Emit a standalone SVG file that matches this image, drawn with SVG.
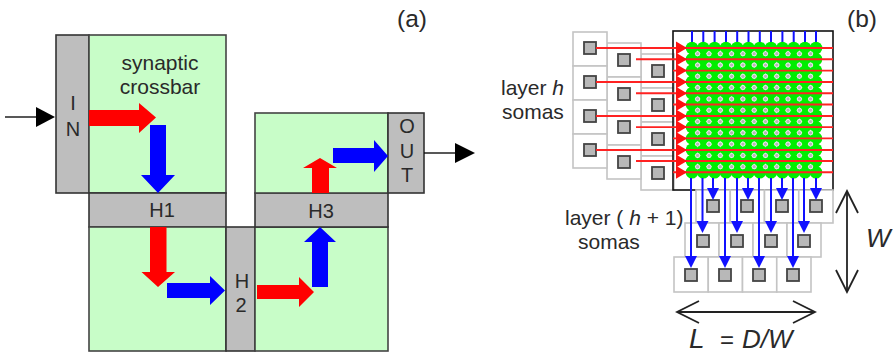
<svg xmlns="http://www.w3.org/2000/svg" width="895" height="354" viewBox="0 0 895 354">
<style>
text{font-family:"Liberation Sans",Arial,sans-serif;fill:#2a2a2a}
.t20{font-size:20px}.t21{font-size:21px}.m{text-anchor:middle}
.g{fill:#c8fdc8;stroke:#444;stroke-width:1.6}
.b{fill:#bebebe;stroke:#333;stroke-width:1.6}
.c{fill:#fff;stroke:#c4c4c4;stroke-width:1.6}
.s{fill:#b8b8b8;stroke:#444;stroke-width:1.8}
.rl{stroke:#f22;stroke-width:1.9;fill:none}
.bl{stroke:#11f;stroke-width:2;fill:none}
.k{stroke:#111;stroke-width:1.4;fill:none}
.d{stroke:#222;stroke-width:1.8;fill:none}
</style>
<defs>
<marker id="open" markerWidth="26" markerHeight="26" refX="24" refY="13" orient="auto-start-reverse" markerUnits="userSpaceOnUse"><path d="M2 2L24 13L2 24" fill="none" stroke="#222" stroke-width="1.8"/></marker>
<rect id="sq" x="-6" y="-6" width="12" height="12" class="s"/>
<path id="bh" d="M-6 -12H6L0 0Z" fill="#11f"/>
<path id="rh" d="M-11 -6.500L0 0L-11 6.500Z" fill="#f11"/>
<circle id="gc" r="6.300" fill="#0e0"/>
<g id="dot"><circle r="2.500" fill="#e8e8e8"/><circle r="1.600" fill="#b4b4b4"/></g>
</defs>
<g id="panel-a">
<g id="in"><rect class="b" x="56" y="35" width="33" height="158"/><text class="t20 m" x="73" y="110">I</text><text class="t20 m" x="73" y="136">N</text></g>
<g id="crossbar1"><rect class="g" x="89" y="35" width="137" height="158"/><text class="t21 m" x="160" y="70">synaptic</text><text class="t21 m" x="160" y="94">crossbar</text></g>
<g id="h1"><rect class="b" x="89" y="193" width="137" height="34"/><text class="t20 m" x="162" y="217">H1</text></g>
<g id="crossbar2"><rect class="g" x="89" y="227" width="137" height="124"/></g>
<g id="h2"><rect class="b" x="226" y="227" width="29" height="124"/><text class="t20 m" x="242" y="288">H</text><text class="t20 m" x="241" y="312">2</text></g>
<g id="crossbar3"><rect class="g" x="255" y="227" width="133" height="124"/></g>
<g id="h3"><rect class="b" x="255" y="193" width="133" height="34"/><text class="t20 m" x="321" y="218">H3</text></g>
<g id="crossbar4"><rect class="g" x="255" y="113" width="133" height="80"/></g>
<g id="out"><rect class="b" x="388" y="113" width="36" height="80"/><text class="t20 m" x="407" y="133">O</text><text class="t20 m" x="407" y="158">U</text><text class="t20 m" x="407" y="182">T</text></g>
<text x="397" y="27" font-size="24.500">(a)</text>
</g>
<g id="connectors-a">
<path d="M5 117H37" class="k"/><path d="M36 107L55 117L36 127Z" fill="#000"/>
<path d="M424 153H456" class="k"/><path d="M455 143L475 153L455 163Z" fill="#000"/>
<path fill="#f00" d="M89 110H139V103L156 117.500L139 133V126H89Z"/>
<path fill="#00f" d="M150 125H166V175H175L158 193L141 175H150Z"/>
<path fill="#f00" d="M150 227H166.500V272H175L158 287L141.500 272H150Z"/>
<path fill="#00f" d="M167 283H210V276L225 290.500L210 305V298H167Z"/>
<path fill="#f00" d="M257 285H299V277L314 292L299 307V299H257Z"/>
<path fill="#00f" d="M312 287V242H304L320 227L336 242H328V287Z"/>
<path fill="#f00" d="M312 193V168H303L320 158L337 168H329V193Z"/>
<path fill="#00f" d="M333 148H374V140L388 156L374 172V163H333Z"/>
</g>
<g id="layer-h-somas">
<g class="col3">
<rect class="c" x="641" y="54" width="33" height="34"/><rect class="c" x="641" y="88" width="33" height="34"/><rect class="c" x="641" y="122" width="33" height="34"/><rect class="c" x="641" y="156" width="33" height="34"/>
<use href="#sq" x="658" y="71"/><use href="#sq" x="658" y="105"/><use href="#sq" x="658" y="139"/><use href="#sq" x="658" y="173"/>
</g>
<g class="col2">
<rect class="c" x="607" y="43" width="34" height="34"/><rect class="c" x="607" y="77" width="34" height="34"/><rect class="c" x="607" y="111" width="34" height="34"/><rect class="c" x="607" y="145" width="34" height="34"/>
<use href="#sq" x="624" y="60"/><use href="#sq" x="624" y="94"/><use href="#sq" x="624" y="127"/><use href="#sq" x="624" y="162"/>
</g>
<g class="col1">
<rect class="c" x="573" y="32" width="34" height="34"/><rect class="c" x="573" y="66" width="34" height="34"/><rect class="c" x="573" y="100" width="34" height="34"/><rect class="c" x="573" y="134" width="34" height="34"/>
<use href="#sq" x="590" y="48"/><use href="#sq" x="590" y="82"/><use href="#sq" x="590" y="116"/><use href="#sq" x="590" y="150"/>
</g>
</g>
<g id="crossbar-b">
<rect x="673" y="31" width="160" height="159" fill="#fff" fill-opacity="0" stroke="#111" stroke-width="1.600"/>
<g id="greens">
<path d="M692 31V43M703.300 31V43M714.600 31V43M726 31V43M737.200 31V43M748.500 31V43M759.800 31V43M771 31V43M782.400 31V43M793.700 31V43M805 31V43M816 31V43" class="bl"/>
<g id="g-rows">
<g id="r0"><use href="#gc" x="692" y="48"/><use href="#gc" x="703.300" y="48"/><use href="#gc" x="714.600" y="48"/><use href="#gc" x="726" y="48"/><use href="#gc" x="737.200" y="48"/><use href="#gc" x="748.500" y="48"/><use href="#gc" x="759.800" y="48"/><use href="#gc" x="771" y="48"/><use href="#gc" x="782.400" y="48"/><use href="#gc" x="793.700" y="48"/><use href="#gc" x="805" y="48"/><use href="#gc" x="816" y="48"/></g>
<use href="#r0" y="11.300"/><use href="#r0" y="22.600"/><use href="#r0" y="33.900"/><use href="#r0" y="45.200"/><use href="#r0" y="56.500"/><use href="#r0" y="67.800"/><use href="#r0" y="79.100"/><use href="#r0" y="90.400"/><use href="#r0" y="101.700"/><use href="#r0" y="113"/><use href="#r0" y="124.300"/>
</g>
<g id="d-rows">
<g id="d0"><use href="#dot" x="697.600" y="53.700"/><use href="#dot" x="709" y="53.700"/><use href="#dot" x="720.300" y="53.700"/><use href="#dot" x="731.600" y="53.700"/><use href="#dot" x="742.900" y="53.700"/><use href="#dot" x="754.200" y="53.700"/><use href="#dot" x="765.500" y="53.700"/><use href="#dot" x="776.800" y="53.700"/><use href="#dot" x="788" y="53.700"/><use href="#dot" x="799.400" y="53.700"/><use href="#dot" x="810.600" y="53.700"/></g>
<use href="#d0" y="11.300"/><use href="#d0" y="22.600"/><use href="#d0" y="33.900"/><use href="#d0" y="45.200"/><use href="#d0" y="56.500"/><use href="#d0" y="67.800"/><use href="#d0" y="79.100"/><use href="#d0" y="90.400"/><use href="#d0" y="101.700"/><use href="#d0" y="113"/>
</g>
</g>
</g>
<g id="layer-h1-somas">
<rect class="c" x="696" y="190" width="34.250" height="33"/><rect class="c" x="730.250" y="190" width="34.250" height="33"/><rect class="c" x="764.500" y="190" width="34.250" height="33"/><rect class="c" x="798.750" y="190" width="34.250" height="33"/>
<rect class="c" x="685" y="223" width="34" height="34"/><rect class="c" x="719" y="223" width="34" height="34"/><rect class="c" x="753" y="223" width="34" height="34"/><rect class="c" x="787" y="223" width="34" height="34"/>
<rect class="c" x="674" y="257" width="34.250" height="35"/><rect class="c" x="708.250" y="257" width="34.250" height="35"/><rect class="c" x="742.500" y="257" width="34.250" height="35"/><rect class="c" x="776.750" y="257" width="34.250" height="35"/>
<use href="#sq" x="713" y="206"/><use href="#sq" x="747" y="206"/><use href="#sq" x="782" y="206"/><use href="#sq" x="816" y="206"/>
<use href="#sq" x="703" y="241"/><use href="#sq" x="737" y="241"/><use href="#sq" x="771" y="241"/><use href="#sq" x="804" y="241"/>
<use href="#sq" x="691" y="275"/><use href="#sq" x="725" y="275"/><use href="#sq" x="759" y="275"/><use href="#sq" x="793" y="275"/>
</g>
<g id="connectors-b">
<path class="rl" d="M596 48H833M636 59.300H833M673 70.600H833M596 82H833M636 93.200H833M673 104.500H833M596 116H833M636 127.100H833M673 138.400H833M596 150H833M636 161H833M673 172.300H833"/>
<use href="#rh" x="687" y="48"/><use href="#rh" x="687" y="59.300"/><use href="#rh" x="687" y="70.600"/><use href="#rh" x="687" y="82"/><use href="#rh" x="687" y="93.200"/><use href="#rh" x="687" y="104.500"/><use href="#rh" x="687" y="116"/><use href="#rh" x="687" y="127.100"/><use href="#rh" x="687" y="138.400"/><use href="#rh" x="687" y="150"/><use href="#rh" x="687" y="161"/><use href="#rh" x="687" y="172.300"/>
<path class="bl" d="M691 178V258M702.500 178V224M713 178V190M725 178V258M737 178V224M748 178V190M759 178V258M771 178V224M782 178V190M793 178V258M804 178V224M816 178V190"/>
<use href="#bh" x="691" y="268"/><use href="#bh" x="725" y="268"/><use href="#bh" x="759" y="268"/><use href="#bh" x="793" y="268"/>
<use href="#bh" x="702.500" y="233"/><use href="#bh" x="737" y="233"/><use href="#bh" x="771" y="233"/><use href="#bh" x="804" y="233"/>
<use href="#bh" x="713" y="200"/><use href="#bh" x="748" y="200"/><use href="#bh" x="782" y="200"/><use href="#bh" x="816" y="200"/>
<path class="d" d="M847 191V292" marker-start="url(#open)" marker-end="url(#open)"/>
<path class="d" d="M677 312H815" marker-start="url(#open)" marker-end="url(#open)"/>
</g>
<g id="labels-b">
<text x="847" y="27" font-size="24.500">(b)</text>
<text class="t21" x="501" y="95">layer <tspan font-style="italic">h</tspan></text>
<text class="t21" x="502" y="119">somas</text>
<text class="t21" x="565" y="225">layer ( <tspan font-style="italic">h</tspan> + 1)</text>
<text class="t21" x="578" y="249">somas</text>
<text x="866" y="247" font-size="26" font-style="italic">W</text>
<text x="689" y="348" font-size="28" font-style="italic">L</text>
<text x="720" y="348" font-size="24">=</text>
<text x="742" y="348" font-size="26" font-style="italic">D/W</text>
</g>
</svg>
